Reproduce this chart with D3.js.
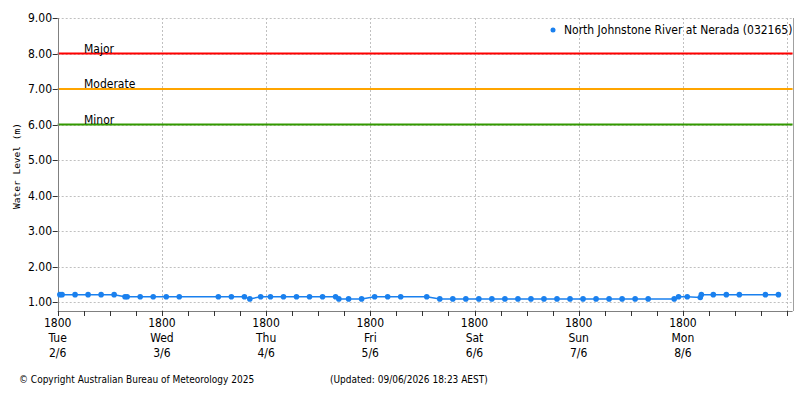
<!DOCTYPE html>
<html>
<head>
<meta charset="utf-8">
<script src="https://cdn.jsdelivr.net/npm/d3@7"></script>
<style>
  body { margin: 0; background: #fff; }
  text { font-family: "DejaVu Sans Condensed", "DejaVu Sans", sans-serif; }
</style>
</head>
<body>
<div id="chart"></div>
<script>
var width = 800;
var height = 400;

// River height readings (AEST)
var times = [
    "2026-06-02 18:30", "2026-06-02 19:00", "2026-06-02 22:00",
    "2026-06-03 01:00", "2026-06-03 04:00", "2026-06-03 07:00", "2026-06-03 09:30", "2026-06-03 10:00",
    "2026-06-03 13:00", "2026-06-03 16:00", "2026-06-03 19:00", "2026-06-03 22:00",
    "2026-06-04 07:00", "2026-06-04 10:00", "2026-06-04 13:00", "2026-06-04 14:15", "2026-06-04 16:45",
    "2026-06-04 19:00", "2026-06-04 22:00",
    "2026-06-05 01:00", "2026-06-05 04:00", "2026-06-05 07:00", "2026-06-05 10:00", "2026-06-05 10:45",
    "2026-06-05 13:00", "2026-06-05 16:00", "2026-06-05 19:00", "2026-06-05 22:00",
    "2026-06-06 01:00", "2026-06-06 07:00", "2026-06-06 10:00", "2026-06-06 13:00", "2026-06-06 16:00",
    "2026-06-06 19:00", "2026-06-06 22:00",
    "2026-06-07 01:00", "2026-06-07 04:00", "2026-06-07 07:00", "2026-06-07 10:00", "2026-06-07 13:00",
    "2026-06-07 16:00", "2026-06-07 19:00", "2026-06-07 22:00",
    "2026-06-08 01:00", "2026-06-08 04:00", "2026-06-08 07:00", "2026-06-08 10:00", "2026-06-08 16:00",
    "2026-06-08 17:00", "2026-06-08 19:00", "2026-06-08 22:00", "2026-06-08 22:15",
    "2026-06-09 01:00", "2026-06-09 04:00", "2026-06-09 07:00", "2026-06-09 13:00", "2026-06-09 16:00"
];
var levels = [
    1.21, 1.21, 1.21,
    1.21, 1.21, 1.21, 1.15, 1.15,
    1.15, 1.15, 1.15, 1.15,
    1.15, 1.15, 1.15, 1.09, 1.15,
    1.15, 1.15,
    1.15, 1.15, 1.15, 1.15, 1.09,
    1.09, 1.09, 1.15, 1.15,
    1.15, 1.15, 1.09, 1.09, 1.09,
    1.09, 1.09,
    1.09, 1.09, 1.09, 1.09, 1.09,
    1.09, 1.09, 1.09,
    1.09, 1.09, 1.09, 1.09, 1.09,
    1.15, 1.15, 1.13, 1.21,
    1.21, 1.21, 1.21, 1.21, 1.21
];

// Flood classification levels
var floodNames = ["Major", "Moderate", "Minor"];
var floodLevels = [8, 7, 6];
var floodColors = ["#ff0000", "#ffa500", "#339900"];

var yTicks = [1, 2, 3, 4, 5, 6, 7, 8, 9];
var dayTicks = ["2026-06-02 18:00", "2026-06-03 18:00", "2026-06-04 18:00", "2026-06-05 18:00",
    "2026-06-06 18:00", "2026-06-07 18:00", "2026-06-08 18:00"];
var dayNames = ["Tue", "Wed", "Thu", "Fri", "Sat", "Sun", "Mon"];
var dayDates = ["2/6", "3/6", "4/6", "5/6", "6/6", "7/6", "8/6"];

var seriesName = "North Johnstone River at Nerada (032165)";
var copyright = "\u00a9 Copyright Australian Bureau of Meteorology 2025";
var updated = "(Updated: 09/06/2026 18:23 AEST)";

var parse = d3.timeParse("%Y-%m-%d %H:%M");
var data = times.map(function(t, i) { return { t: parse(t), v: levels[i] }; });

// plot area edges (note: "top" would clash with window.top)
var plotLeft = 57.7, plotRight = 792.6, plotTop = 18, plotBottom = 311;

var x = d3.scaleTime()
    .domain([parse("2026-06-02 18:00"), parse("2026-06-09 19:16")])
    .range([plotLeft, plotRight]);
var y = d3.scaleLinear()
    .domain([0.75, 9])
    .range([plotBottom, plotTop]);

var svg = d3.select("#chart")
    .append("svg")
    .attr("width", width)
    .attr("height", height);

// Gridlines
svg.selectAll(".hgrid")
    .data(yTicks)
    .enter()
    .append("line")
    .attr("x1", plotLeft)
    .attr("x2", plotRight)
    .attr("y1", function(d) { return Math.round(y(d)) + 0.5; })
    .attr("y2", function(d) { return Math.round(y(d)) + 0.5; })
    .attr("stroke", "#c0c0c0")
    .attr("stroke-dasharray", "2,2");

var sixHourTicks = d3.timeHour.every(6).range(parse("2026-06-02 18:00"), parse("2026-06-09 19:00"));
var gridDays = sixHourTicks.filter(function(d) { return d.getHours() === 18; });

svg.selectAll(".vgrid")
    .data(gridDays)
    .enter()
    .append("line")
    .attr("x1", function(d) { return Math.round(x(d)) + 0.5; })
    .attr("x2", function(d) { return Math.round(x(d)) + 0.5; })
    .attr("y1", plotTop)
    .attr("y2", plotBottom)
    .attr("stroke", "#c0c0c0")
    .attr("stroke-dasharray", "2,2");

// Flood class lines
svg.selectAll(".flood")
    .data(floodLevels)
    .enter()
    .append("line")
    .attr("x1", plotLeft)
    .attr("x2", plotRight)
    .attr("y1", function(d) { return y(d); })
    .attr("y2", function(d) { return y(d); })
    .attr("stroke", function(d, i) { return floodColors[i]; })
    .attr("stroke-width", 2);

svg.selectAll(".floodLabel")
    .data(floodLevels)
    .enter()
    .append("text")
    .attr("x", 84)
    .attr("y", function(d) { return y(d) - 1; })
    .attr("font-size", 12)
    .attr("fill", "#000")
    .text(function(d, i) { return floodNames[i]; });

// Axes frame
svg.append("line")
    .attr("x1", Math.round(plotLeft) + 0.5).attr("x2", Math.round(plotLeft) + 0.5)
    .attr("y1", plotTop).attr("y2", plotBottom)
    .attr("stroke", "#808080");
svg.append("line")
    .attr("x1", Math.round(plotRight) + 0.5).attr("x2", Math.round(plotRight) + 0.5)
    .attr("y1", plotTop).attr("y2", plotBottom)
    .attr("stroke", "#a0a0a0");
svg.append("line")
    .attr("x1", plotLeft).attr("x2", plotRight)
    .attr("y1", plotBottom + 0.5).attr("y2", plotBottom + 0.5)
    .attr("stroke", "#808080");

// Y ticks and labels
svg.selectAll(".ytick")
    .data(yTicks)
    .enter()
    .append("line")
    .attr("x1", plotLeft - 5)
    .attr("x2", plotLeft)
    .attr("y1", function(d) { return Math.round(y(d)) + 0.5; })
    .attr("y2", function(d) { return Math.round(y(d)) + 0.5; })
    .attr("stroke", "#333");

svg.selectAll(".ylabel")
    .data(yTicks)
    .enter()
    .append("text")
    .attr("x", 52)
    .attr("y", function(d) { return y(d); })
    .attr("dy", "0.36em")
    .attr("text-anchor", "end")
    .attr("font-size", 12)
    .text(function(d) { return d3.format(".2f")(d); });

svg.append("text")
    .attr("transform", "translate(20,166) rotate(-90)")
    .attr("text-anchor", "middle")
    .style("font-family", "'DejaVu Sans Mono', monospace")
    .attr("font-size", 9.5)
    .text("Water Level (m)");

// X ticks (every 6 hours) and day labels
svg.selectAll(".xtick")
    .data(sixHourTicks)
    .enter()
    .append("line")
    .attr("x1", function(d) { return Math.round(x(d)) + 0.5; })
    .attr("x2", function(d) { return Math.round(x(d)) + 0.5; })
    .attr("y1", plotBottom)
    .attr("y2", plotBottom + 5)
    .attr("stroke", "#333");

var xLabels = svg.selectAll(".xlabel")
    .data(dayTicks)
    .enter()
    .append("text")
    .attr("text-anchor", "middle")
    .attr("font-size", 12)
    .attr("x", function(d) { return x(parse(d)); });

xLabels.append("tspan").attr("y", 327).attr("x", function(d) { return x(parse(d)); }).text("1800");
xLabels.append("tspan").attr("y", 342).attr("x", function(d) { return x(parse(d)); }).text(function(d, i) { return dayNames[i]; });
xLabels.append("tspan").attr("y", 357).attr("x", function(d) { return x(parse(d)); }).text(function(d, i) { return dayDates[i]; });

// Series
var line = d3.line()
    .x(function(d) { return x(d.t); })
    .y(function(d) { return y(d.v); });

svg.append("path")
    .datum(data)
    .attr("fill", "none")
    .attr("stroke", "#1a80ee")
    .attr("stroke-width", 1.5)
    .attr("d", line);

svg.selectAll(".pt")
    .data(data)
    .enter()
    .append("circle")
    .attr("cx", function(d) { return x(d.t); })
    .attr("cy", function(d) { return y(d.v); })
    .attr("r", 2.8)
    .attr("fill", "#1a80ee");

// Legend
svg.append("circle")
    .attr("cx", 553)
    .attr("cy", 30)
    .attr("r", 2.5)
    .attr("fill", "#1a80ee");
svg.append("text")
    .attr("x", 564)
    .attr("y", 34)
    .attr("font-size", 12)
    .text(seriesName);

// Footer
svg.append("text")
    .attr("x", 19)
    .attr("y", 383)
    .attr("font-size", 10)
    .text(copyright);
svg.append("text")
    .attr("x", 330)
    .attr("y", 383)
    .attr("font-size", 10)
    .text(updated);
</script>
</body>
</html>
